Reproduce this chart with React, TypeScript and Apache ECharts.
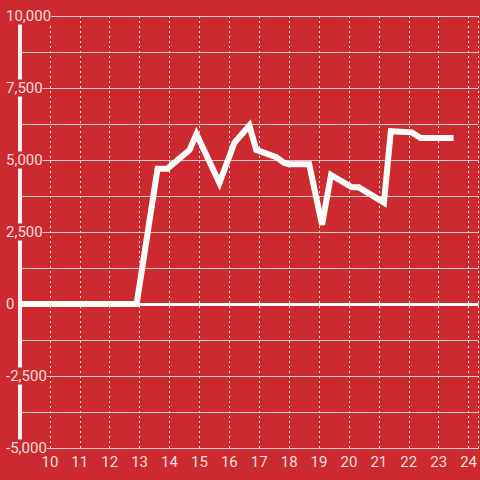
import React, { useEffect, useRef } from "react";
import * as echarts from "echarts";

const xValues = [9, 12.9, 13.6, 13.93, 14.67, 14.9, 15.67, 16.17, 16.67, 16.9, 17.57, 17.83, 18, 18.67, 19.1, 19.4, 20.1, 20.33, 21.17, 21.4, 22.1, 22.4, 23.5];
const yValues = [0, 0, 4700, 4700, 5350, 5900, 4200, 5600, 6200, 5350, 5100, 4900, 4850, 4850, 2750, 4480, 4050, 4050, 3520, 6000, 5960, 5760, 5760];

const BG = "#cd2a30";
const LABEL = "#f3dede";

export default function App() {
  const ref = useRef<HTMLDivElement>(null);
  useEffect(() => {
    if (!ref.current) return;
    const chart = echarts.init(ref.current, null, { renderer: "svg" });
    const data = xValues.map((x, i) => [x, yValues[i]]);
    chart.setOption({
      animation: false,
      backgroundColor: BG,
      grid: { left: 20, right: 0, top: 16, bottom: 32, containLabel: false },
      xAxis: {
        type: "value",
        min: 9,
        max: 24.333,
        interval: 1,
        axisLine: { show: true, onZero: false, lineStyle: { color: "#d0d0d0", width: 1 } },
        axisTick: { show: false },
        axisLabel: {
          showMinLabel: false,
          showMaxLabel: false,
          color: LABEL,
          fontSize: 15,
          fontFamily: "Roboto",
          margin: 6,
        },
        splitLine: { show: true, lineStyle: { color: "#e8e8e8", type: [2, 3], width: 1 } },
      },
      yAxis: {
        type: "value",
        min: -5000,
        max: 10000,
        interval: 2500,
        axisLine: { show: true, onZero: false, lineStyle: { color: "#f2f2f2", width: 4 } },
        axisTick: { show: false },
        minorTick: { show: false, splitNumber: 2 },
        minorSplitLine: { show: true, lineStyle: { color: "#cfcfcf", width: 1 } },
        splitLine: { show: true, lineStyle: { color: "#cfcfcf", width: 1 } },
        axisLabel: {
          color: LABEL,
          fontSize: 15,
          fontFamily: "Roboto",
          align: "left",
          margin: 14,
          backgroundColor: BG,
          padding: [1, 0, 1, 0],
          formatter: (v: number) => v.toLocaleString("en-US"),
        },
      },
      series: [
        {
          type: "line",
          data,
          showSymbol: false,
          symbol: "none",
          lineStyle: { color: "#ffffff", width: 6, join: "miter" },
          z: 5,
          markLine: {
            silent: true,
            symbol: "none",
            label: { show: false },
            lineStyle: { color: "#ffffff", width: 3, type: "solid" },
            data: [{ yAxis: 0 }],
          },
        },
      ],
    });
    return () => chart.dispose();
  }, []);
  return (
    <div
      ref={ref}
      style={{ position: "absolute", left: 0, top: 0, width: 480, height: 480 }}
    />
  );
}
